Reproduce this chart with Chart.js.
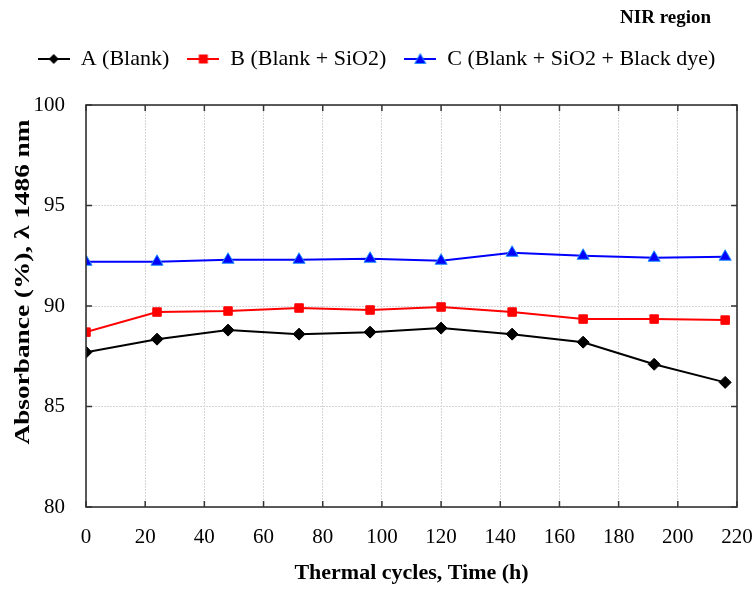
<!DOCTYPE html>
<html>
<head>
<meta charset="utf-8">
<script src="https://cdn.jsdelivr.net/npm/chart.js@4"></script>
<style>
  html, body { margin: 0; padding: 0; background: #fff; }
  #wrap { width: 753px; height: 589px; }
</style>
</head>
<body>
<div id="wrap"><canvas id="absChart"></canvas></div>
<script>
// thermal cycling time (h)
const hours = [0, 24, 48, 72, 96, 120, 144, 168, 192, 216];
const seriesA = [87.7, 88.35, 88.8, 88.6, 88.7, 88.9, 88.6, 88.2, 87.1, 86.2];
const seriesB = [88.7, 89.7, 89.75, 89.9, 89.8, 89.95, 89.7, 89.35, 89.35, 89.3];
const seriesC = [92.2, 92.2, 92.3, 92.3, 92.35, 92.25, 92.65, 92.5, 92.4, 92.45];
const xTicks = [0, 20, 40, 60, 80, 100, 120, 140, 160, 180, 200, 220];
const yTicks = [80, 85, 90, 95, 100];

const serif = "'Liberation Serif', 'DejaVu Serif', serif";

function toPoints(arr) {
  return hours.map((h, i) => ({ x: h, y: arr[i] }));
}

// small legend swatch: line with the marker in the middle
function legendIcon(color, shape, edge) {
  const c = document.createElement('canvas');
  c.width = 32; c.height = 14;
  const g = c.getContext('2d');
  g.strokeStyle = color; g.lineWidth = 2;
  g.beginPath(); g.moveTo(0, 7); g.lineTo(32, 7); g.stroke();
  g.fillStyle = color;
  g.beginPath();
  if (shape === 'diamond') {
    g.moveTo(16, 2); g.lineTo(21, 7); g.lineTo(16, 12); g.lineTo(11, 7);
  } else if (shape === 'square') {
    g.rect(11.5, 2.5, 9, 9);
  } else {
    g.moveTo(16, 1.5); g.lineTo(21.5, 11.5); g.lineTo(10.5, 11.5);
  }
  g.closePath(); g.fill();
  if (edge) { g.strokeStyle = edge; g.lineWidth = 1; g.stroke(); }
  return c;
}

const icons = [
  legendIcon('#000000', 'diamond'),
  legendIcon('#ff0000', 'square'),
  legendIcon('#0000ff', 'triangle', '#1e90ff')
];

// extra room under the legend row
const legendGap = {
  id: 'legendGap',
  beforeInit(chart) {
    const fit = chart.legend.fit;
    chart.legend.fit = function () {
      fit.bind(chart.legend)();
      this.height += 25;
    };
  }
};

// frame around the plot, inward ticks, y title and the region label
const framePlugin = {
  id: 'frame',
  afterDraw(chart) {
    const { ctx, chartArea: a, scales } = chart;
    ctx.save();
    ctx.strokeStyle = '#333';
    ctx.lineWidth = 1.6;
    ctx.strokeRect(a.left, a.top, a.right - a.left, a.bottom - a.top);
    ctx.lineWidth = 1.5;
    ctx.beginPath();
    xTicks.forEach(v => {
      const px = scales.x.getPixelForValue(v);
      ctx.moveTo(px, a.bottom); ctx.lineTo(px, a.bottom - 6);
      ctx.moveTo(px, a.top); ctx.lineTo(px, a.top + 6);
    });
    yTicks.forEach(v => {
      const py = scales.y.getPixelForValue(v);
      ctx.moveTo(a.left, py); ctx.lineTo(a.left + 6, py);
      ctx.moveTo(a.right, py); ctx.lineTo(a.right - 6, py);
    });
    ctx.stroke();

    ctx.fillStyle = '#000';
    ctx.font = "bold 19px " + serif;
    ctx.textAlign = 'right';
    ctx.textBaseline = 'middle';
    ctx.fillText('NIR region', 711, 18);

    // y title, drawn a little stretched along its length
    ctx.translate(24, 282);
    ctx.rotate(-Math.PI / 2);
    ctx.scale(1.3, 1);
    ctx.textAlign = 'center';
    ctx.font = "bold 21px " + serif;
    ctx.fillText('Absorbance (%), λ 1486 nm', 0, 0);
    ctx.restore();
  }
};

new Chart(document.getElementById('absChart').getContext('2d'), {
  type: 'line',
  data: {
    datasets: [
      {
        label: 'A (Blank)',
        data: toPoints(seriesA),
        borderColor: '#000000',
        backgroundColor: '#000000',
        borderWidth: 2,
        pointStyle: 'rectRot',
        pointRadius: 6,
        pointBorderWidth: 1
      },
      {
        label: 'B (Blank + SiO2)',
        data: toPoints(seriesB),
        borderColor: '#ff0000',
        backgroundColor: '#ff0000',
        borderWidth: 2,
        pointStyle: 'rect',
        pointRadius: 6,
        pointBorderWidth: 1
      },
      {
        label: 'C (Blank + SiO2 + Black dye)',
        data: toPoints(seriesC),
        borderColor: '#0000ff',
        backgroundColor: '#0000ff',
        pointBorderColor: '#1e90ff',
        borderWidth: 2,
        pointStyle: 'triangle',
        pointRadius: 7,
        pointBorderWidth: 1
      }
    ]
  },
  options: {
    responsive: true,
    maintainAspectRatio: false,
    animation: false,
    layout: { padding: { top: 30, right: 0, left: 0, bottom: 0 } },
    plugins: {
      tooltip: { enabled: false },
      legend: {
        labels: {
          color: '#000',
          font: { family: serif, size: 22 },
          usePointStyle: true,
          pointStyleWidth: 32,
          padding: 18,
          generateLabels(chart) {
            return chart.data.datasets.map((ds, i) => ({
              text: ds.label,
              pointStyle: icons[i],
              fillStyle: ds.borderColor,
              strokeStyle: ds.borderColor,
              lineWidth: 0,
              fontColor: '#000',
              datasetIndex: i
            }));
          }
        }
      }
    },
    scales: {
      x: {
        type: 'linear',
        min: 0,
        max: 220,
        afterBuildTicks(scale) { scale.ticks = xTicks.map(v => ({ value: v })); },
        afterFit(scale) {
          scale.height = 82;
          scale.paddingRight = 16;
        },
        ticks: { color: '#000', font: { family: serif, size: 21 }, padding: 18, maxRotation: 0 },
        grid: { color: '#d6d6d6', lineWidth: 1, drawTicks: false },
        border: { display: false, dash: [2, 1] },
        title: {
          display: true,
          text: 'Thermal cycles, Time (h)',
          color: '#000',
          font: { family: serif, size: 22, weight: 'bold' },
          padding: { top: 0, bottom: 2 }
        }
      },
      y: {
        min: 80,
        max: 100,
        afterBuildTicks(scale) { scale.ticks = yTicks.map(v => ({ value: v })); },
        afterFit(scale) { scale.width = 86; },
        ticks: { color: '#000', font: { family: serif, size: 21 }, padding: 21 },
        grid: { color: '#d6d6d6', lineWidth: 1, drawTicks: false },
        border: { display: false, dash: [2, 1] },
        title: { display: false }
      }
    }
  },
  plugins: [legendGap, framePlugin]
});
</script>
</body>
</html>
